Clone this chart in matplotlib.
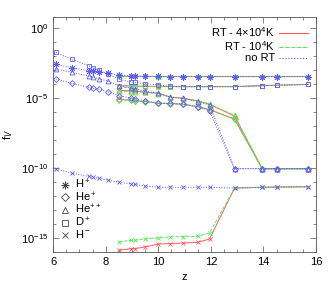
import numpy as np
import matplotlib
matplotlib.use('Agg')
import matplotlib.pyplot as plt
from matplotlib.lines import Line2D
from matplotlib.ticker import LogLocator, MultipleLocator, NullFormatter

plt.rcParams['font.family'] = ['Liberation Sans', 'DejaVu Sans']
plt.rcParams['mathtext.fontset'] = 'custom'
plt.rcParams['mathtext.rm'] = 'Liberation Sans'

# redshift grids
z_norad = [6.1, 6.7, 7.35, 7.5, 7.75, 8.1, 8.5, 8.95, 9.1, 9.5, 10.0,
           10.45, 10.95, 11.5, 11.95, 12.9, 13.95, 14.5, 15.7]
z_rt = [8.5, 8.95, 9.1, 9.5, 10.0, 10.45, 10.95, 11.5, 11.95, 12.9,
        13.95, 14.5, 15.7]

# log10 fractions, no RT
norad_hp = [-2.59, -2.84, -3.05, -3.07, -3.16, -3.24, -3.36, -3.42, -3.43, -3.45,
            -3.45, -3.47, -3.47, -3.47, -3.47, -3.47, -3.47, -3.47, -3.47]
norad_hep = [-3.64, -3.95, -4.24, -4.31, -4.38, -4.55, -4.84, -5.0, -5.05, -5.2,
             -5.36, -5.38, -5.43, -5.62, -5.9, -10.05, -10.05, -10.05, -10.05]
norad_hepp = [-2.93, -3.16, -3.43, -3.48, -3.64, -3.79, -4.12, -4.3, -4.36, -4.5,
              -4.66, -4.95, -5.03, -5.27, -5.5, -10.05, -10.05, -10.05, -10.05]
norad_dp = [-1.74, -2.24, -2.69, -2.84, -3.0, -3.29, -3.66, -3.84, -3.89, -3.97,
            -4.07, -4.17, -4.19, -4.19, -4.19, -4.19, -4.12, -4.09, -4.03]
norad_hm = [-10.07, -10.36, -10.6, -10.66, -10.74, -10.88, -11.02, -11.14, -11.17, -11.29,
            -11.38, -11.38, -11.38, -11.38, -11.38, -11.43, -11.38, -11.36, -11.34]

# log10 fractions, RT 4x10^4 K
hot_hp = [-3.45, -3.46, -3.46, -3.46, -3.47, -3.47, -3.47, -3.47, -3.47, -3.47,
          -3.47, -3.47, -3.47]
hot_hep = [-5.1, -5.15, -5.18, -5.25, -5.38, -5.4, -5.45, -5.62, -5.83, -6.52,
           -10.05, -10.05, -10.05]
hot_hepp = [-4.45, -4.5, -4.52, -4.58, -4.66, -4.93, -5.02, -5.2, -5.45, -6.29,
            -10.05, -10.05, -10.05]
hot_dp = [-4.12, -4.14, -4.15, -4.16, -4.17, -4.19, -4.19, -4.19, -4.19, -4.19,
          -4.12, -4.09, -4.03]
hot_hm = [-15.88, -15.76, -15.76, -15.64, -15.43, -15.4, -15.36, -15.31, -15.07, -11.43,
          -11.38, -11.36, -11.34]

# log10 fractions, RT 10^4 K
cold_hp = [-3.45, -3.46, -3.46, -3.46, -3.47, -3.47, -3.47, -3.47, -3.47, -3.47,
           -3.47, -3.47, -3.47]
cold_hep = [-5.12, -5.17, -5.19, -5.27, -5.38, -5.41, -5.46, -5.62, -5.82, -6.48,
            -10.05, -10.05, -10.05]
cold_hepp = [-4.5, -4.55, -4.56, -4.6, -4.68, -4.93, -5.03, -5.22, -5.45, -6.24,
             -10.05, -10.05, -10.05]
cold_dp = [-4.25, -4.21, -4.2, -4.19, -4.18, -4.19, -4.19, -4.19, -4.19, -4.19,
           -4.12, -4.09, -4.03]
cold_hm = [-15.29, -15.17, -15.17, -15.07, -14.98, -14.93, -14.9, -14.88, -14.64, -11.43,
           -11.38, -11.36, -11.34]

species = ['H$^+$', 'He$^+$', 'He$^{++}$', 'D$^+$', 'H$^-$']
markers = [(8, 2, 0), 'D', '^', 's', 'x']
sizes = [4.5, 3, 3.5, 3.5, 3.5]

runs = [
    ('RT - 4$\\times$10$^4$K', '#ff5a5a', '-', z_rt,
     [hot_hp, hot_hep, hot_hepp, hot_dp, hot_hm]),
    ('RT - 10$^4$K', '#55e855', '--', z_rt,
     [cold_hp, cold_hep, cold_hepp, cold_dp, cold_hm]),
    ('no RT', '#5a5aff', ':', z_norad,
     [norad_hp, norad_hep, norad_hepp, norad_dp, norad_hm]),
]

fig = plt.figure(figsize=(3.32, 2.87), dpi=100)
ax = fig.add_axes([0.16, 0.122, 0.792, 0.819])

for label, col, ls, z, sets in runs:
    for vals, m, ms in zip(sets, markers, sizes):
        ax.plot(z, 10.0 ** np.array(vals), color=col, ls=ls, lw=0.7,
                marker=m, ms=ms, mfc='none', mew=0.6)

ax.set_yscale('log')
ax.set_xlim(6, 16)
ax.set_ylim(1e-16, 10 ** 0.79)
ax.set_xticks([6, 8, 10, 12, 14, 16])
ax.xaxis.set_minor_locator(MultipleLocator(0.5))
ax.yaxis.set_major_locator(LogLocator(base=10, subs=[1.0], numticks=10))
ax.set_yticks([1e0, 1e-5, 1e-10, 1e-15])
ax.yaxis.set_minor_locator(LogLocator(base=10, subs=[1.0], numticks=30))
ax.yaxis.set_minor_formatter(NullFormatter())
ax.tick_params(which='both', direction='in', top=True, right=True,
               labelsize=8, width=0.5, color='#555555')
ax.tick_params(which='major', length=4)
ax.tick_params(which='minor', length=2)
for s in ax.spines.values():
    s.set_linewidth(0.6)
    s.set_color('#555555')
ax.set_xlabel('z', fontsize=8)
ax.set_ylabel('f$_V$', fontsize=8)

run_handles = [Line2D([], [], color=c, ls=ls, lw=0.8) for _, c, ls, _, _ in runs]
leg1 = ax.legend(run_handles, [r[0] for r in runs], loc='upper right',
                 frameon=False, markerfirst=False, fontsize=8, handlelength=2.6,
                 handletextpad=0.4, labelspacing=0.05, borderaxespad=0.3)
ax.add_artist(leg1)

sp_handles = [Line2D([], [], ls='none', marker=m, ms=ms + 1, mfc='none',
                     mec='#444444', mew=0.6) for m, ms in zip(markers, sizes)]
ax.legend(sp_handles, species, loc='lower left', bbox_to_anchor=(0.01, 0.03),
          frameon=False, fontsize=8, handlelength=0.8, handletextpad=0.5,
          labelspacing=-0.05, borderaxespad=0.0)

fig.savefig('out.png', dpi=100)
